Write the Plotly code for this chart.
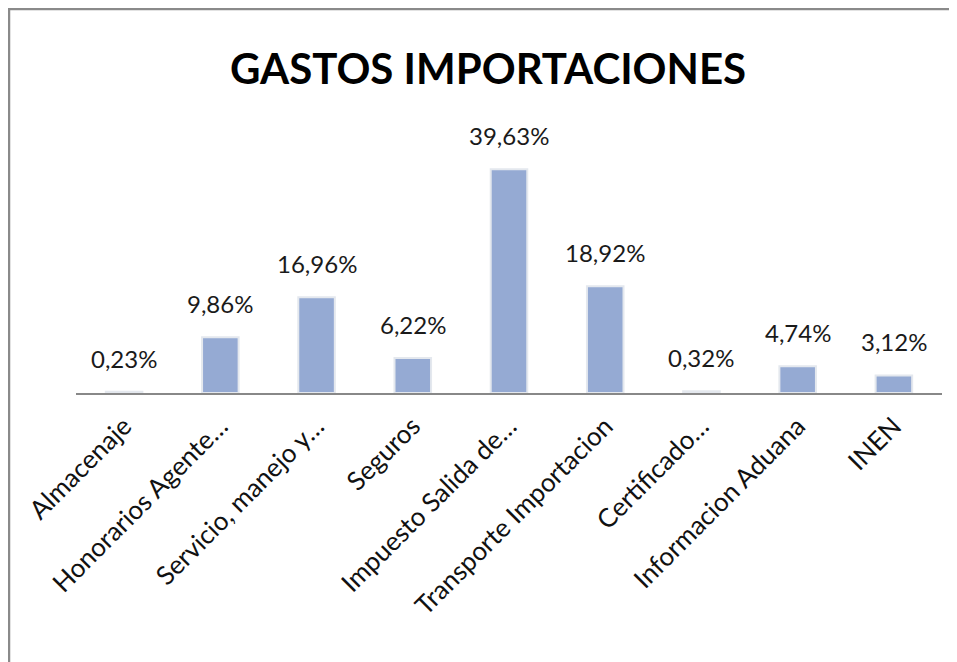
import plotly.graph_objects as go

categories = ["Almacenaje", "Honorarios Agente…", "Servicio, manejo y…", "Seguros",
              "Impuesto Salida de…", "Transporte Importacion", "Certificado…",
              "Informacion Aduana", "INEN"]
values = [0.23, 9.86, 16.96, 6.22, 39.63, 18.92, 0.32, 4.74, 3.12]
labels = [f"{v:.2f}%".replace(".", ",") for v in values]

W, H = 957, 662
OFF = 8  # browser body margin offset
# desired screen positions: plot x 76..942, axis at y 393, 42% at y 156
L = 76 - OFF
R = W - (942 - OFF)
T = 156 - OFF
B = H - (393 - OFF)
pw, ph = W - L - R, H - T - B

def px(x):
    return (x - L) / pw

def py(y):
    return (H - B - y) / ph

FONT = "Lato, Carlito, Calibri, Liberation Sans, Arial"

fig = go.Figure(go.Bar(
    x=categories, y=values,
    marker=dict(color="#95AAD3", line=dict(color="#E4E8EE", width=2)),
    width=0.38,
))

for c, v, t in zip(categories, values, labels):
    fig.add_annotation(x=c, y=v, text=t, showarrow=False, xanchor="center", yanchor="bottom",
                       yshift=17, font=dict(size=24, color="#1a1a1a", family=FONT))

fig.update_layout(
    width=W, height=H,
    margin=dict(l=L, r=R, t=T, b=B, autoexpand=False),
    paper_bgcolor="white", plot_bgcolor="white",
    showlegend=False,
    title=dict(text="<b>GASTOS IMPORTACIONES</b>", x=(488 - OFF) / W, xanchor="center",
               y=1 - (69 - OFF) / H, yanchor="middle",
               font=dict(size=42, color="#000000", family=FONT)),
    xaxis=dict(showline=True, linecolor="#888888", linewidth=1.5, ticks="",
               tickangle=-45, tickfont=dict(size=26, color="#111111", family=FONT),
               ticklabelstandoff=6,
               showgrid=False, automargin=False),
    yaxis=dict(range=[0, 42], visible=False, showgrid=False),
    shapes=[
        dict(type="line", xref="paper", yref="paper", x0=px(0), x1=px(W + 5), y0=py(1), y1=py(1),
             line=dict(color="#8A8A8A", width=2.5)),
        dict(type="line", xref="paper", yref="paper", x0=px(1), x1=px(1), y0=py(0), y1=py(H + 5),
             line=dict(color="#8A8A8A", width=2.5)),
    ],
)

fig.write_html("out.html")
